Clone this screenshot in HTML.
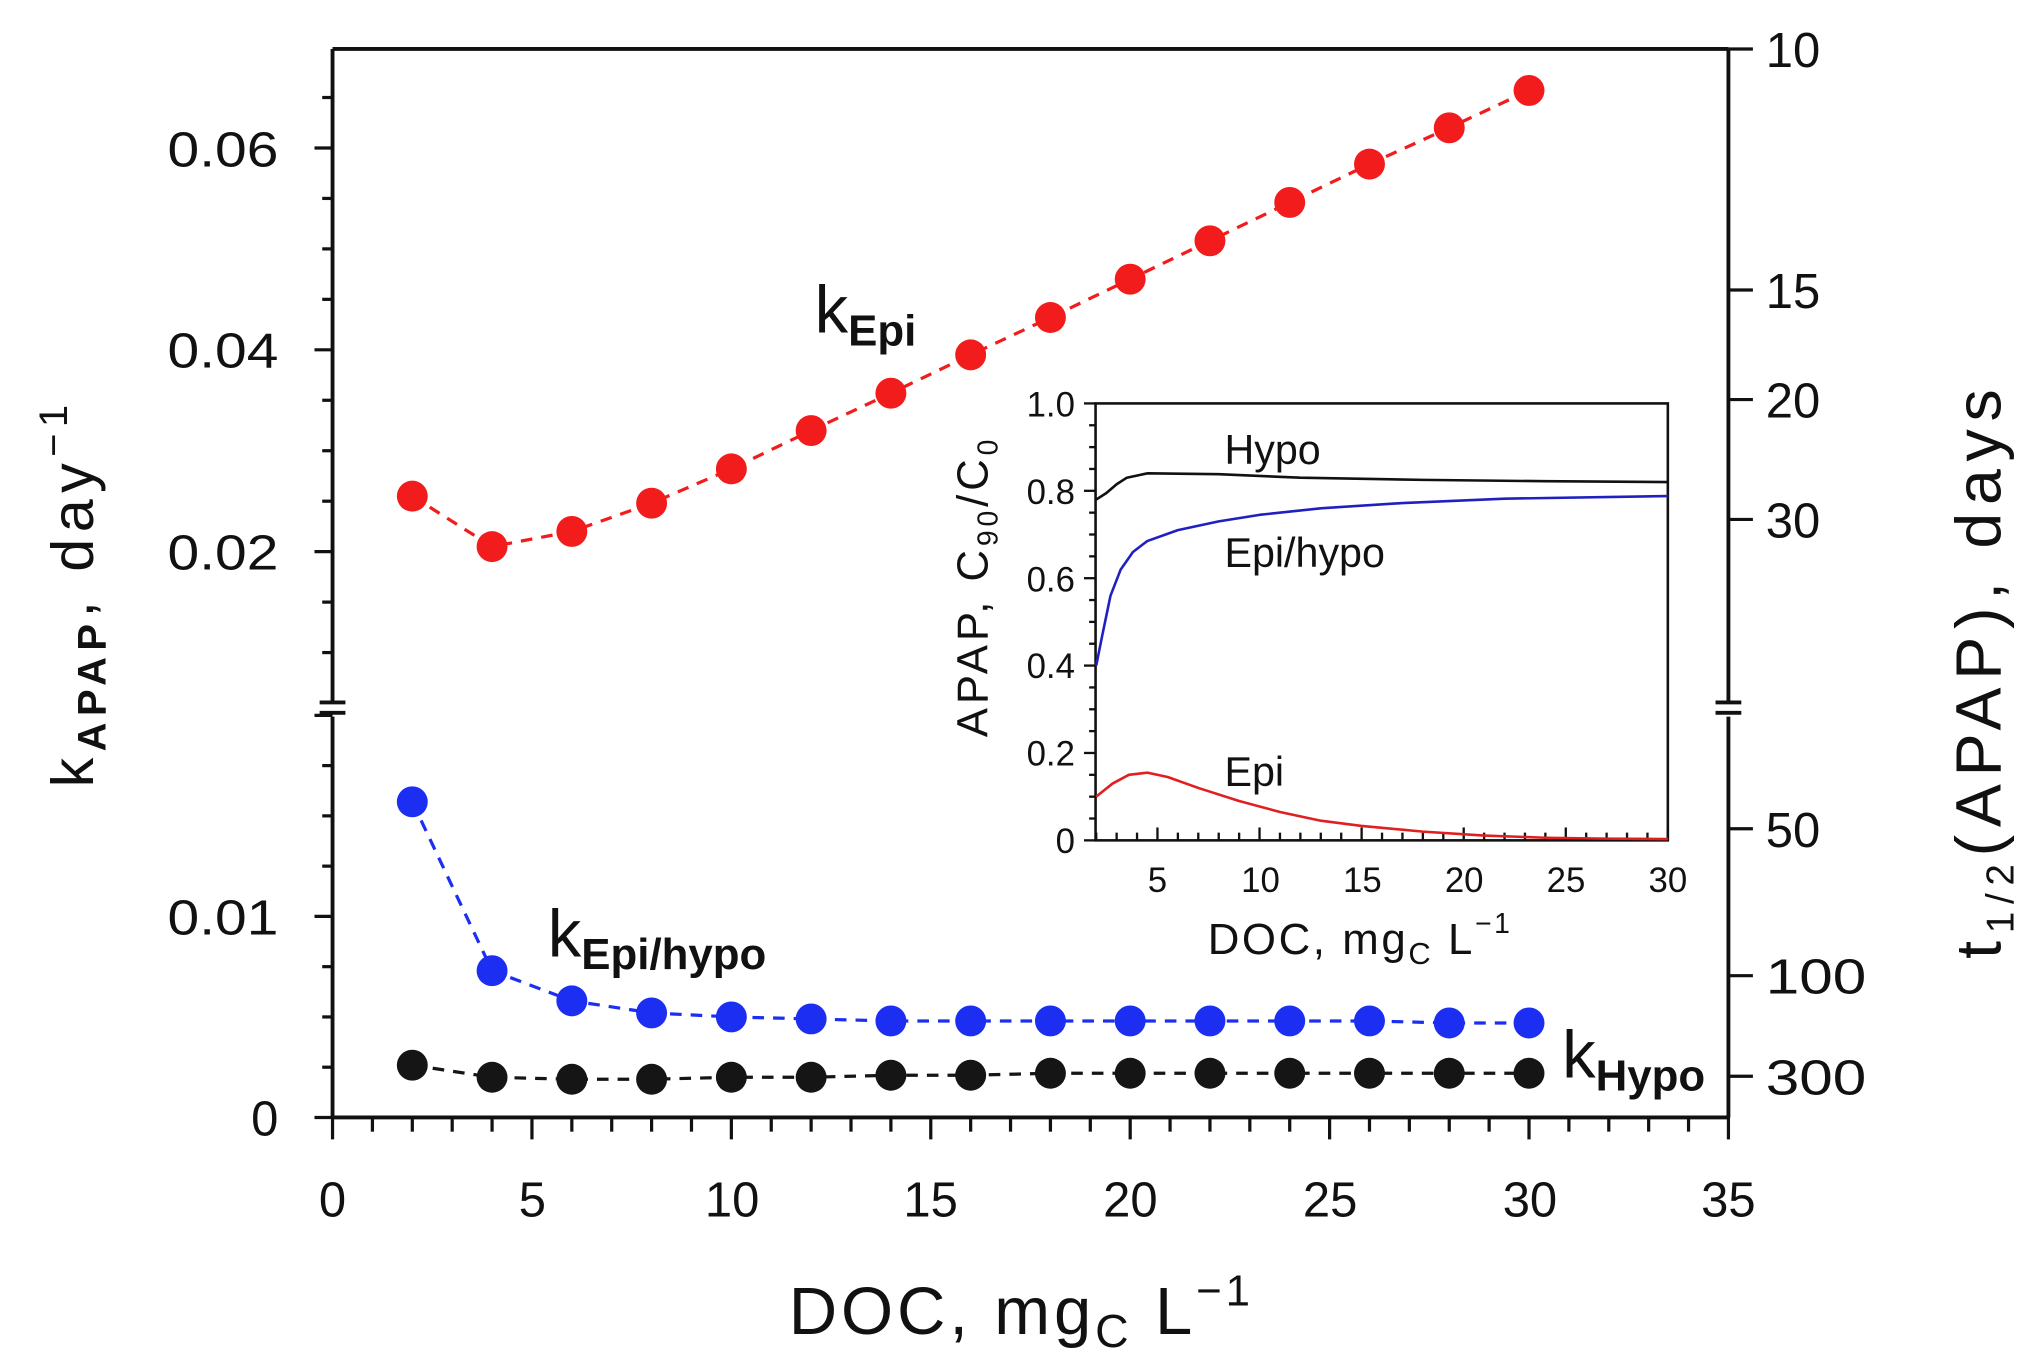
<!DOCTYPE html>
<html><head><meta charset="utf-8"><style>
html,body{margin:0;padding:0;background:#fff}
svg{display:block}
text{font-family:"Liberation Sans",sans-serif;fill:#111}
</style></head><body>
<svg id="s" width="2021" height="1371" viewBox="0 0 1568 1063.7" preserveAspectRatio="none">
<g id="g"></g>
<g font-size="38" text-anchor="end">
<text x="216" y="881">0</text>
<text x="216" y="725" textLength="86" lengthAdjust="spacingAndGlyphs">0.01</text>
<text x="216" y="442" textLength="86" lengthAdjust="spacingAndGlyphs">0.02</text>
<text x="216" y="285" textLength="86" lengthAdjust="spacingAndGlyphs">0.04</text>
<text x="216" y="129" textLength="86" lengthAdjust="spacingAndGlyphs">0.06</text>
</g>
<g font-size="38" text-anchor="middle">
<text x="258" y="944">0</text><text x="413" y="944">5</text><text x="568" y="944">10</text>
<text x="722" y="944">15</text><text x="877" y="944">20</text><text x="1032" y="944">25</text>
<text x="1187" y="944">30</text><text x="1341" y="944">35</text>
</g>
<g font-size="38">
<text x="1370" y="52">10</text><text x="1370" y="239">15</text><text x="1370" y="324">20</text>
<text x="1370" y="417">30</text><text x="1370" y="657">50</text><text x="1370" y="771" textLength="78" lengthAdjust="spacingAndGlyphs">100</text>
<text x="1370" y="849" textLength="78" lengthAdjust="spacingAndGlyphs">300</text>
</g>
<text x="612" y="1035" font-size="52" letter-spacing="3">DOC, mg<tspan font-size="36" dy="10">C</tspan><tspan dy="-10"> L</tspan><tspan font-size="34" dy="-22">−1</tspan></text>
<text transform="translate(72,460) rotate(-90)" font-size="46" text-anchor="middle" letter-spacing="5">k<tspan font-size="31" font-weight="bold" dy="10">APAP</tspan><tspan dy="-10">, day</tspan><tspan font-size="31" dy="-20">−1</tspan></text>
<text transform="translate(1552,520) rotate(-90)" font-size="50" text-anchor="middle" letter-spacing="6">t<tspan font-size="30" dy="10">1/2</tspan><tspan dy="-10">(APAP), days</tspan></text>
<text x="632" y="258" font-size="52">k<tspan font-size="34" font-weight="bold" dy="10">Epi</tspan></text>
<text x="425" y="742" font-size="52">k<tspan font-size="34" font-weight="bold" dy="10">Epi/hypo</tspan></text>
<text x="1212" y="836" font-size="52">k<tspan font-size="34" font-weight="bold" dy="10">Hypo</tspan></text>
<g font-size="27" text-anchor="end">
<text x="834" y="323">1.0</text><text x="834" y="391">0.8</text><text x="834" y="459">0.6</text>
<text x="834" y="526">0.4</text><text x="834" y="594">0.2</text><text x="834" y="662">0</text>
</g>
<g font-size="27" text-anchor="middle">
<text x="898" y="692">5</text><text x="978" y="692">10</text><text x="1057" y="692">15</text>
<text x="1136" y="692">20</text><text x="1215" y="692">25</text><text x="1294" y="692">30</text>
</g>
<text x="937" y="740" font-size="34" letter-spacing="2">DOC, mg<tspan font-size="24" dy="8">C</tspan><tspan dy="-8"> L</tspan><tspan font-size="22" dy="-16">−1</tspan></text>
<text transform="translate(766,455) rotate(-90)" font-size="34" text-anchor="middle" letter-spacing="3">APAP, C<tspan font-size="22" dy="8">90</tspan><tspan dy="-8">/C</tspan><tspan font-size="22" dy="8">0</tspan></text>
<text x="950" y="360" font-size="32">Hypo</text>
<text x="950" y="440" font-size="32">Epi/hypo</text>
<text x="950" y="610" font-size="32">Epi</text>
</svg>
<script>
var g=document.getElementById('g'),h='';
function L(x1,y1,x2,y2,c,w,d){h+='<line x1="'+x1+'" y1="'+y1+'" x2="'+x2+'" y2="'+y2+'" stroke="'+(c||'#111')+'" stroke-width="'+(w||2.5)+'"'+(d?' stroke-dasharray="'+d+'"':'')+'/>';}
var X=v=>258+v*30.943;
var YL=v=>867-v*15600, YU=v=>428-(v-0.02)*7830;
L(258,38,1341,38,'#111',3);L(258,867,1341,867,'#111',3);
L(258,38,258,545,'#111',3);L(258,556,258,867,'#111',3);
L(1341,38,1341,545,'#111',3);L(1341,556,1341,867,'#111',3);
[258,1341].forEach(x=>{L(x-10,545,x+10,545,'#111',3);L(x-10,553,x+10,553,'#111',3);});
for(var i=0;i<=35;i++){L(X(i),867,X(i),i%5?878:884);}
for(var v=0;v<=0.0201;v+=0.0025){var y=YL(v);if(y>548)L(258,y,(Math.round(v*1e4)%100==0)?244:250,y);}
for(var v=0.005;v<=0.0701;v+=0.005){var y=YU(v);if(y<545&&y>=38)L(258,y,(Math.round(v*1e3)%20==0)?244:250,y);}
[38,225,310,403,643,757,835].forEach(y=>L(1341,y,1360,y));
function series(ys,f,c){var xs=[];for(var i=0;i<15;i++)xs.push(2+2*i);
 h+='<polyline fill="none" stroke="'+c+'" stroke-width="2.5" stroke-dasharray="9 7" points="'+xs.map((x,i)=>X(x)+','+f(ys[i])).join(' ')+'"/>';
 xs.forEach((x,i)=>{h+='<circle cx="'+X(x)+'" cy="'+f(ys[i])+'" r="12" fill="'+c+'"/>';});}
series([0.0255,0.0205,0.022,0.0248,0.0282,0.032,0.0357,0.0395,0.0432,0.047,0.0508,0.0546,0.0584,0.062,0.0657],YU,'#f21c1c');
series([0.0157,0.0073,0.0058,0.0052,0.005,0.0049,0.0048,0.0048,0.0048,0.0048,0.0048,0.0048,0.0048,0.0047,0.0047],YL,'#1c2ef2');
series([0.0026,0.002,0.0019,0.0019,0.002,0.002,0.0021,0.0021,0.0022,0.0022,0.0022,0.0022,0.0022,0.0022,0.0022],YL,'#151515');
var IX=v=>850.5+(v-2)*15.84, IY=v=>652-v*339;
h+='<rect x="850" y="313" width="444" height="339" fill="#fff" stroke="#111" stroke-width="2"/>';
for(var v=0;v<=1.001;v+=0.05){L(850,IY(v),(Math.round(v*100)%20==0)?841:845,IY(v),'#111',1.8);}
for(var v=2;v<=30;v++){L(IX(v),652,IX(v),(v%5)?646:642,'#111',1.8);}
function curve(pts,c){h+='<polyline fill="none" stroke="'+c+'" stroke-width="2" stroke-linejoin="round" points="'+pts.map(p=>IX(p[0])+','+IY(p[1])).join(' ')+'"/>';}
curve([[2,0.78],[2.5,0.795],[3,0.815],[3.5,0.83],[4.5,0.84],[8,0.838],[12,0.83],[18,0.825],[24,0.822],[30,0.82]],'#111');
curve([[2,0.4],[2.3,0.47],[2.7,0.56],[3.2,0.62],[3.8,0.66],[4.5,0.685],[6,0.71],[8,0.73],[10,0.745],[13,0.76],[17,0.772],[22,0.782],[30,0.788]],'#2020c0');
curve([[2,0.1],[2.8,0.13],[3.6,0.15],[4.5,0.155],[5.5,0.145],[7,0.12],[9,0.09],[11,0.065],[13,0.045],[15,0.033],[18,0.02],[21,0.011],[24,0.006],[27,0.004],[30,0.003]],'#e02020');
g.innerHTML=h;
</script>
</body></html>
